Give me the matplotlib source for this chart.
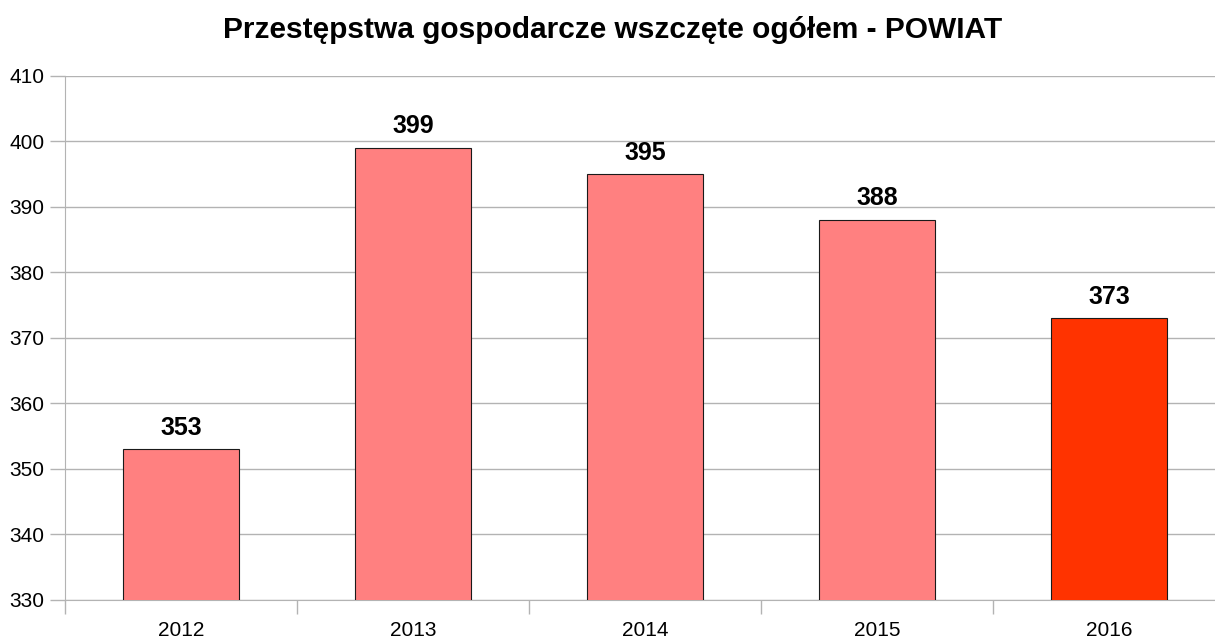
import numpy as np
import matplotlib.pyplot as plt

plt.rcParams['font.family'] = ['Liberation Sans', 'DejaVu Sans']

years = ['2012', '2013', '2014', '2015', '2016']
values = [353, 399, 395, 388, 373]
colors = ['#ff8080', '#ff8080', '#ff8080', '#ff8080', '#ff3300']

fig = plt.figure(figsize=(12.15, 6.4), dpi=100)
# axes: left 65px, 232px per category, y from 76px (410) to 600px (330)
ax = fig.add_axes([65 / 1215, 40 / 640, 1160 / 1215, 524 / 640])

x = np.arange(len(years))
ax.bar(x, values, width=0.5, bottom=0, color=colors, edgecolor='#1a1a1a',
       linewidth=0.8, zorder=3)
for xi, v in zip(x, values):
    ax.annotate(str(v), (xi, v), xytext=(0, 7), textcoords='offset points',
                ha='center', va='bottom', fontsize=18, fontweight='bold')

ax.set_xlim(-0.5, len(years) - 0.5)
ax.set_ylim(330, 410)
ax.set_yticks(np.arange(330, 411, 10))
ax.yaxis.grid(True, color='#b3b3b3', linewidth=1, zorder=0)
ax.set_xticks(x)
ax.set_xticklabels(years)
ax.set_xticks(np.arange(-0.5, len(years)), minor=True)
ax.tick_params(axis='x', which='major', length=0, labelsize=15, pad=15)
ax.tick_params(axis='x', which='minor', length=10, color='#b3b3b3', width=1)
ax.tick_params(axis='y', length=11, color='#b3b3b3', width=1, labelsize=15, pad=4)
for s in ['top', 'right']:
    ax.spines[s].set_visible(False)
for s in ['left', 'bottom']:
    ax.spines[s].set_color('#b3b3b3')

fig.text(613 / 1215, 1 - 30 / 640, 'Przestępstwa gospodarcze wszczęte ogółem - POWIAT',
         ha='center', va='center', fontsize=21.5, fontweight='bold')

fig.savefig('out.png', dpi=100)
